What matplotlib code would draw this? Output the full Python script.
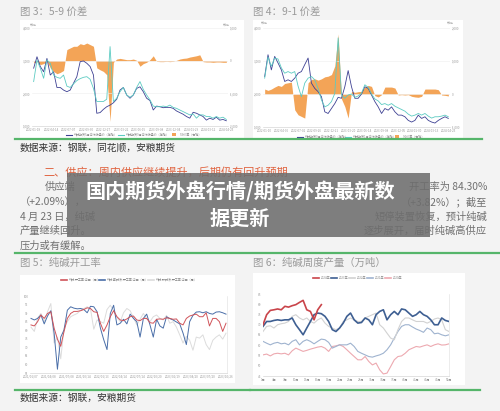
import numpy as np
import matplotlib.pyplot as plt
from matplotlib.patches import Rectangle
from matplotlib.lines import Line2D

plt.rcParams['font.family'] = ['Noto Sans CJK SC', 'DejaVu Sans']

W, H = 500, 411

############################################
# data
############################################
# fig 3: 5-9 spread
navy3 = [2770, 3120, 2820, 2660, 3070, 2560, 2660, 2180, 2180, 2100, 2050, 2100, 2310, 2510, 2970, 2990,
         2920, 2820, 2560, 1390, 1410, 1510, 1590, 1640, 1710, 1820, 2100, 2180, 1950, 1850, 1950, 2150,
         2200, 2050, 1850, 1780, 1490, 1610, 1590, 1560, 1570, 1570, 1540, 1460, 1410, 1360, 1290, 1240,
         1420, 1390, 1340, 1290, 1180, 1240, 1200, 1270, 1180, 1200, 1160]
teal3 = [2360, 3020, 2770, 2460, 3020, 2920, 2560, 2490, 2460, 2560, 2220, 2180, 2290, 2390, 2450, 2490,
         2510, 2430, 2150, 1750, 1750, 1750, 1820, 3430, 1750, 1850, 2050, 2180, 1950, 1880, 1950, 2180,
         2360, 2120, 1950, 1800, 1610, 1590, 1590, 1610, 1590, 1640, 1570, 1540, 1490, 1440, 1390, 1340,
         1370, 1240, 1340, 1340, 1290, 1290, 1240, 1290, 1240, 1270, 1200]
spread3 = [-70, -20, -120, -90, -20, -220, -330, -400, -360, -300, 340, 390, 440, 440, 520, 490, 540, 490,
           440, -220, -280, -330, -430, -1860, -50, 50, 70, 50, 30, 30, 50, 10, -170, -90, -50, 30, 150,
           -20, -30, -30, -20, -30, -20, 10, 50, 70, 80, 110, 130, 150, 180, -30, -40, -40, -50, -40, -40,
           -50, -50]
dates3 = ['2022-01-18', '2022-04-14', '2022-07-07', '2022-09-30', '2022-12-27', '2023-03-22',
          '2023-06-15', '2023-09-08', '2023-12-04', '2024-01-29', '2024-03-12', '2024-04-23']

# fig 4: 9-1 spread
navy4 = [2530, 3190, 2730, 3140, 2940, 2730, 2380, 2430, 2380, 2480, 2630, 2680, 2890, 3090, 2330, 2170,
         2070, 1920, 1460, 1410, 1560, 1710, 1900, 1870, 2220, 2710, 2220, 1870, 1870, 2000, 2220, 2170,
         1970, 1770, 1610, 1410, 1560, 1510, 1610, 1460, 1360, 1360, 1310, 1200, 1150, 1200, 1360, 1260,
         1310, 1200, 1150, 1120, 1200, 1260, 1310, 1260]
teal4 = [2480, 3120, 2840, 3090, 3060, 2790, 2630, 2680, 2630, 2680, 2240, 1920, 2330, 2480, 2530, 2430,
         2170, 1820, 1610, 1660, 1770, 2020, 3700, 1970, 1870, 1970, 2000, 1900, 1940, 2020, 2280, 2200,
         2000, 1850, 1790, 1680, 1710, 1660, 1710, 1630, 1580, 1530, 1480, 1390, 1330, 1360, 1410, 1360,
         1410, 1330, 1270, 1310, 1310, 1330, 1360, 1310]
spread4 = [150, 110, 150, 210, 260, 230, 320, 340, 360, -480, -630, -680, -730, 340, 440, 460, 420, 460,
           520, 540, 590, 850, 1820, -150, -380, -730, 80, 50, 70, 80, 210, 260, 230, -50, -90, -20, 210,
           210, 210, 180, -30, -20, -30, -20, -70, -90, -100, -70, 150, 150, 150, 150, 130, -30, -40, -60]
dates4 = ['2022-01-10', '2022-04-06', '2022-07-01', '2022-09-26', '2022-12-21', '2023-03-20',
          '2023-06-14', '2023-09-08', '2023-12-05', '2024-01-30', '2024-03-13', '2024-04-23']

# fig 5: operating rate (%)
rate_total = [83.1, 82.5, 85.0, 88.9, 86.9, 89.8, 90.8, 81.2, 74.8, 70.6, 79.3, 86.9, 89.8, 91.0, 91.0,
              91.4, 92.1, 93.1, 92.7, 90.8, 90.4, 84.1, 79.3, 83.1, 87.9, 91.4, 87.9, 86.0, 85.6, 86.6,
              87.9, 88.3, 86.0, 85.6, 86.9, 86.9, 84.4, 84.1, 86.4, 86.6, 86.4, 87.3, 86.9, 86.4, 86.6,
              84.1, 83.1, 86.9, 88.3, 88.9, 89.4, 87.9, 87.9, 90.2, 82.5, 86.9, 86.9, 85.0, 79.3, 84.1]
rate_ammonia = [86.9, 86.0, 86.9, 88.9, 83.7, 88.3, 91.4, 78.3, 57.2, 76.0, 80.2, 91.7, 93.7, 92.9, 92.5,
                92.7, 92.1, 90.2, 94.0, 93.7, 90.8, 81.2, 74.5, 68.7, 89.8, 94.6, 83.1, 84.1, 86.4, 83.7,
                89.4, 86.9, 85.0, 76.0, 86.9, 89.4, 83.1, 76.0, 86.4, 82.5, 81.2, 87.9, 86.8, 86.0, 84.8,
                83.7, 78.3, 71.6, 85.0, 88.7, 90.6, 90.8, 90.2, 90.8, 89.8, 89.4, 90.6, 90.8, 90.2, 89.4]
rate_joint = [81.8, 79.3, 86.9, 89.8, 85.0, 90.8, 95.6, 72.5, 76.0, 63.3, 81.2, 85.0, 87.9, 88.9, 89.8,
              91.7, 92.7, 93.7, 92.5, 80.6, 86.0, 85.0, 84.1, 92.1, 94.6, 91.4, 87.5, 85.0, 90.2, 92.7,
              91.4, 87.5, 83.1, 86.4, 89.8, 86.8, 85.0, 87.9, 88.9, 86.9, 86.0, 88.7, 84.1, 85.0, 81.8,
              77.3, 72.5, 76.4, 74.1, 68.3, 76.0, 75.4, 77.3, 71.6, 68.7, 74.1, 76.0, 77.3, 74.8, 78.3]
dates5 = ['2021/01/07', '2021/04/08', '2021/07/08', '2021/10/14', '2022/01/13', '2022/04/14',
          '2022/07/14', '2022/10/20', '2023/01/19', '2023/04/20', '2023/07/20', '2023/10/26']

# fig 6: weekly output (10k t)
out2024 = [70.0, 74.9, 77.0, 77.3, 77.7, 77.3, 79.0, 78.6, 79.3, 79.8, 80.9, 81.9, 77.3, 76.5, 72.4,
           77.3, 79.8]
out2023 = [69.2, 71.6, 71.6, 72.1, 72.4, 72.1, 72.4, 72.4, 73.3, 70.0, 67.6, 65.1, 68.4, 71.6, 74.9,
           75.7, 75.4, 74.1, 71.6, 67.6, 66.7, 68.4, 70.8, 74.1, 75.7, 72.4, 70.8, 71.1, 73.3, 72.4,
           70.0, 74.9, 76.5, 77.3, 72.4, 74.9, 76.5, 74.9, 77.7, 77.3, 75.7, 74.1, 74.9, 76.5, 74.9,
           74.1, 72.4, 70.0, 70.0, 73.3, 72.1, 71.6]
out2022 = [66.7, 69.2, 69.5, 68.4, 70.0, 70.5, 70.8, 71.6, 74.1, 74.9, 73.3, 72.4, 73.3, 71.6, 70.8,
           72.4, 73.3, 70.8, 69.2, 68.4, 67.6, 68.4, 71.6, 72.4, 73.3, 72.4, 71.6, 71.6, 73.3, 74.1,
           74.9, 75.7, 70.0, 68.4, 65.9, 63.5, 62.7, 67.6, 71.6, 73.3, 73.3, 72.4, 71.6, 71.6, 71.6,
           70.8, 71.6, 72.8, 73.3, 72.4, 67.6, 66.7]
out2021 = [61.9, 61.0, 60.2, 61.0, 61.4, 60.7, 61.0, 60.2, 61.9, 62.7, 60.2, 61.9, 62.7, 61.9, 60.7,
           61.9, 63.0, 62.7, 61.4, 58.6, 59.4, 60.2, 60.2, 60.2, 61.0, 59.4, 57.0, 56.1, 55.3, 54.5,
           54.2, 54.8, 55.3, 56.1, 57.8, 60.2, 63.5, 66.7, 69.2, 70.0, 70.0, 68.9, 67.9, 67.2, 66.3,
           68.4, 67.6, 65.6, 65.9, 65.1, 64.6, 65.1]
out2020 = [55.3, 55.7, 54.8, 55.8, 56.1, 55.8, 56.1, 55.3, 57.3, 58.6, 57.8, 57.0, 57.5, 58.1, 58.6,
           59.1, 59.4, 58.6, 57.0, 59.4, 59.7, 60.2, 59.4, 57.8, 56.1, 54.5, 52.9, 52.9, 54.5, 52.1,
           50.4, 51.3, 48.0, 46.0, 46.4, 49.6, 52.9, 54.5, 54.8, 56.1, 57.8, 58.6, 59.4, 59.1, 59.7,
           60.2, 59.4, 60.2, 60.7, 60.1, 60.2, 60.7]
years6 = ['2024年', '2023年', '2022年', '2021年', '2020年']

############################################
# page
############################################
fig = plt.figure(figsize=(5, 4.11), dpi=100)
fig.patch.set_facecolor('#f3f3f3')


def box(x0, y0, x1, y1):
    return [x0 / W, 1 - y1 / H, (x1 - x0) / W, (y1 - y0) / H]


def panel(x0, y0, x1, y1):
    fig.patches.append(Rectangle((x0 / W, 1 - y1 / H), (x1 - x0) / W, (y1 - y0) / H,
                                 transform=fig.transFigure, facecolor='white',
                                 edgecolor='none', zorder=-10))


def ftext(x, y, s, **kw):
    kw.setdefault('va', 'center')
    return fig.text(x / W, 1 - y / H, s, **kw)


def hline(x0, x1, y, color='#55b56a', lw=1.6):
    fig.add_artist(Line2D([x0 / W, x1 / W], [1 - y / H, 1 - y / H], color=color, lw=lw,
                          transform=fig.transFigure))


def legend_item(x, y, color, label, kind='line', lw=0.8):
    if kind == 'line':
        fig.add_artist(Line2D([x / W, (x + 6) / W], [1 - y / H] * 2, color=color, lw=lw,
                              transform=fig.transFigure))
    else:
        fig.patches.append(Rectangle((x / W, 1 - (y + 1.5) / H), 4 / W, 3 / H, facecolor=color,
                                     edgecolor='none', transform=fig.transFigure))
    ftext(x + 8, y, label, fontsize=2.2, color='#888888')


def style(ax):
    for s in ax.spines.values():
        s.set_visible(False)
    ax.tick_params(length=0, labelsize=2.2, colors='#999999', pad=1.2)
    ax.patch.set_visible(False)


def base_spine(ax, right=False):
    ax.spines['bottom'].set_visible(True)
    ax.spines['bottom'].set_color('#cccccc')
    ax.spines['bottom'].set_linewidth(0.4)
    if right:
        ax.spines['right'].set_visible(True)
        ax.spines['right'].set_color('#dddddd')
        ax.spines['right'].set_linewidth(0.4)


gray_title = '#9a9a9a'
navy = '#3e4193'
teal = '#5ccbc2'
orange = '#f3a457'

# ---------- fig 3 ----------
ftext(20, 12, '图 3：5-9 价差', fontsize=7.5, color=gray_title)
panel(20, 20, 244, 138)
ax3b = fig.add_axes(box(32, 28, 228, 126))
ax3 = ax3b.twinx()
x3 = np.arange(len(navy3))
ax3b.fill_between(x3, 0, spread3, color=orange, lw=0)
ax3b.set_ylim(-2000, 1000)
ax3b.yaxis.tick_right()
ax3b.set_yticks([-2000, -1000, 0, 1000], ['-2,000', '-1,000', '0', '1,000'])
ax3.plot(x3, navy3, color=navy, lw=0.6)
ax3.plot(x3, teal3, color=teal, lw=0.6)
ax3.set_ylim(1000, 4000)
ax3.yaxis.tick_left()
ax3.set_yticks([1000, 2000, 3000, 4000], ['1,000', '2,000', '3,000', '4,000'])
ax3.grid(axis='y', color='#eeeeee', lw=0.4)
ax3b.set_xlim(-0.5, len(x3) - 0.5)
ax3b.set_xticks(np.linspace(0, len(x3) - 1, len(dates3)), dates3)
for a in (ax3, ax3b):
    style(a)
base_spine(ax3b)
ftext(30, 24, '元/吨', fontsize=2, color='#999999')
ftext(223, 24, '元/吨', fontsize=2, color='#999999')
legend_item(66, 135, navy, '纯碱期货5月合约收盘价（左轴）')
legend_item(118, 135, teal, '纯碱期货9月合约收盘价（左轴）')
legend_item(172, 135, orange, '5-9价差（右轴）', kind='box')

# ---------- fig 4 ----------
ftext(253, 12, '图 4：9-1 价差', fontsize=7.5, color=gray_title)
panel(253, 20, 463, 140)
ax4b = fig.add_axes(box(263, 28, 450, 127))
ax4 = ax4b.twinx()
x4 = np.arange(len(navy4))
ax4b.fill_between(x4, 0, spread4, color=orange, lw=0)
ax4b.set_ylim(-1000, 2000)
ax4b.yaxis.tick_right()
ax4b.set_yticks([-1000, 0, 1000, 2000], ['-1,000', '0', '1,000', '2,000'])
ax4.plot(x4, navy4, color=navy, lw=0.6)
ax4.plot(x4, teal4, color=teal, lw=0.6)
ax4.set_ylim(1000, 4000)
ax4.yaxis.tick_left()
ax4.set_yticks([1000, 2000, 3000, 4000], ['1,000', '2,000', '3,000', '4,000'])
ax4.grid(axis='y', color='#eeeeee', lw=0.4)
ax4b.set_xlim(-0.5, len(x4) - 0.5)
ax4b.set_xticks(np.linspace(0, len(x4) - 1, len(dates4)), dates4)
for a in (ax4, ax4b):
    style(a)
base_spine(ax4b)
ftext(261, 23, '元/吨', fontsize=2, color='#999999')
ftext(447, 23, '元/吨', fontsize=2, color='#999999')
legend_item(297, 137, navy, '纯碱期货9月合约收盘价（左轴）')
legend_item(345, 137, teal, '纯碱期货1月合约收盘价（左轴）')
legend_item(395, 137, orange, '9-1价差（右轴）', kind='box')

hline(15, 482, 139.5)
ftext(20, 148, '数据来源：钢联，同花顺，安粮期货', fontsize=7, color='#333333')

# ---------- text block ----------
ftext(43, 172, '二、供应：周内供应继续提升，后期仍有回升预期', fontsize=8, color='#e0633f')
para = '#707070'
ftext(45, 187, '供应端', fontsize=7.4, color=para)
ftext(487, 187, '开工率为 84.30%', fontsize=7.4, color=para, ha='right')
ftext(20, 202, '（+2.09%），', fontsize=7.4, color=para)
ftext(487, 202, '（+3.82%）；截至', fontsize=7.4, color=para, ha='right')
ftext(20, 217, '4 月 23 日，纯碱', fontsize=7.4, color=para)
ftext(487, 217, '短停装置恢复，预计纯碱', fontsize=7.4, color=para, ha='right')
ftext(20, 231, '产量继续回升。', fontsize=7.4, color=para)
ftext(487, 231, '逐步展开，届时纯碱高供应', fontsize=7.4, color=para, ha='right')
ftext(20, 246, '压力或有缓解。', fontsize=7.4, color=para)

fig.patches.append(Rectangle((67 / W, 1 - 237 / H), (430 - 67) / W, (237 - 173) / H,
                             transform=fig.transFigure, facecolor='#6e6e6e', alpha=0.88,
                             edgecolor='none', zorder=5))
ftext(240, 192, '国内期货外盘行情/期货外盘最新数', fontsize=14.5, color='white',
      weight='bold', ha='center', zorder=6)
ftext(240, 218, '据更新', fontsize=14.5, color='white', weight='bold', ha='center', zorder=6)

hline(15, 500, 253.5)

# ---------- fig 5 ----------
ftext(20, 263, '图 5：纯碱开工率', fontsize=7.5, color=gray_title)
panel(20, 275, 235, 383)
ax5 = fig.add_axes(box(30, 296, 227, 373))
x5 = np.arange(len(rate_total))
ax5.plot(x5, rate_joint, color='#dcdcdc', lw=0.7)
ax5.plot(x5, rate_ammonia, color='#4a6ea8', lw=0.7)
ax5.plot(x5, rate_total, color='#d0545a', lw=0.7)
ax5.set_ylim(55, 100)
ax5.set_yticks(np.arange(55, 101, 5))
ax5.set_xlim(-0.3, len(x5) - 0.7)
ax5.set_xticks(np.linspace(0, len(x5) - 1, len(dates5)), dates5)
style(ax5)
base_spine(ax5, right=True)
legend_item(61, 280, '#d0545a', '纯碱:开工率:中国（周）', lw=1.2)
legend_item(99, 280, '#4a6ea8', '纯碱:氨碱法:开工率:中国（周）', lw=1.2)
legend_item(148, 280, '#dcdcdc', '纯碱:联碱法:开工率:中国（周）', lw=1.2)

hline(15, 250, 390)
ftext(20, 398, '数据来源：钢联，安粮期货', fontsize=7, color='#333333')

# ---------- fig 6 ----------
ftext(253, 263, '图 6：纯碱周度产量（万吨）', fontsize=7.5, color=gray_title)
panel(253, 273, 465, 385)
ax6 = fig.add_axes(box(263, 294, 449, 376))
weeks = np.arange(1, 53)
ax6.plot(weeks, out2020, color='#eda9b0', lw=0.8)
ax6.plot(weeks, out2021, color='#9fb3cf', lw=0.8)
ax6.plot(weeks, out2022, color='#d2d2d2', lw=0.8)
ax6.plot(weeks, out2023, color='#3e5f92', lw=1.2)
ax6.plot(weeks[:len(out2024)], out2024, color='#c9444a', lw=1.2)
ax6.set_ylim(45, 85)
ax6.set_yticks(np.arange(45, 86, 5))
ax6.set_xlim(1, 52)
ax6.set_xticks(np.arange(1, 53, 3), ['%d周' % w for w in range(1, 53, 3)])
style(ax6)
base_spine(ax6, right=True)
cols6 = ['#c9444a', '#3e5f92', '#d2d2d2', '#9fb3cf', '#eda9b0']
for i, (yr, c) in enumerate(zip(years6, cols6)):
    legend_item(313 + i * 18, 278, c, yr, lw=1.2)

hline(250, 480, 390)

fig.savefig('out.png', dpi=100, facecolor=fig.get_facecolor())
